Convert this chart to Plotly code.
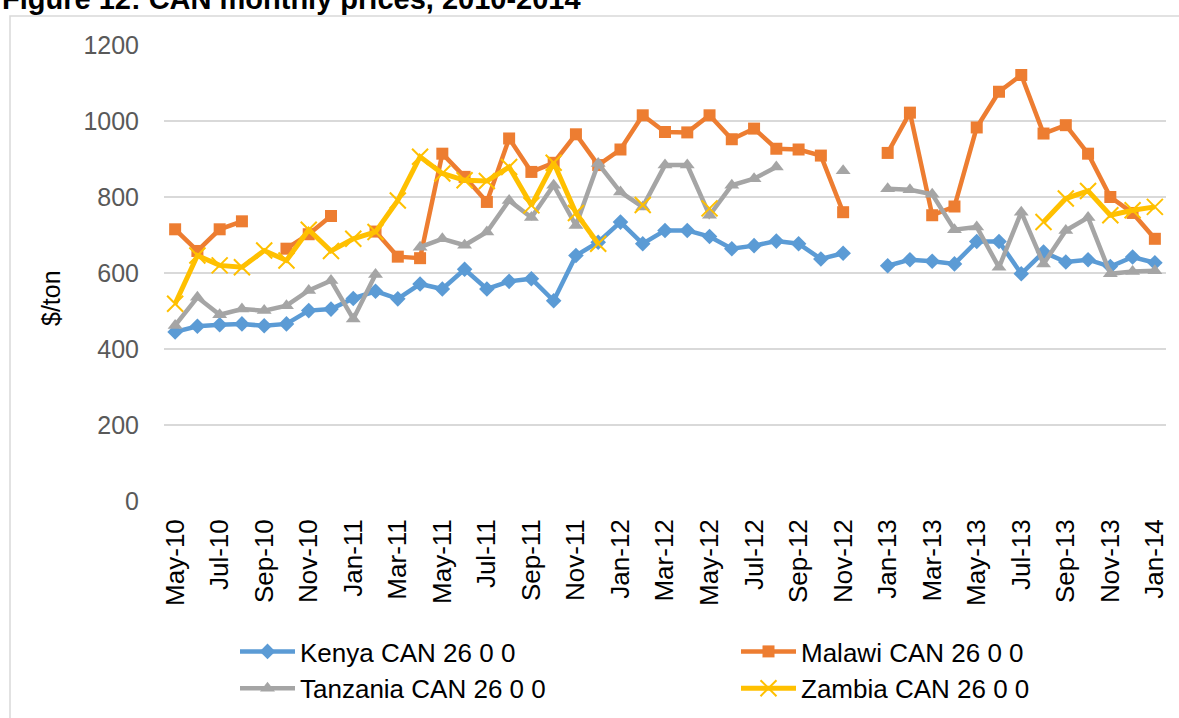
import plotly.graph_objects as go

months = ["May-10","Jun-10","Jul-10","Aug-10","Sep-10","Oct-10","Nov-10","Dec-10",
          "Jan-11","Feb-11","Mar-11","Apr-11","May-11","Jun-11","Jul-11","Aug-11",
          "Sep-11","Oct-11","Nov-11","Dec-11","Jan-12","Feb-12","Mar-12","Apr-12",
          "May-12","Jun-12","Jul-12","Aug-12","Sep-12","Oct-12","Nov-12","Dec-12",
          "Jan-13","Feb-13","Mar-13","Apr-13","May-13","Jun-13","Jul-13","Aug-13",
          "Sep-13","Oct-13","Nov-13","Dec-13","Jan-14"]

kenya = [445, 460, 464, 466, 461, 466, 501, 505, 533, 552, 532, 571, 558, 610, 558, 578,
         585, 527, 646, 681, 734, 677, 712, 712, 696, 664, 672, 684, 677, 637, 652, None,
         619, 635, 631, 624, 683, 683, 598, 655, 629, 635, 617, 642, 627]

malawi = [715, 658, 715, 736, None, 664, 702, 750, None, 709, 643, 639, 914, 853, 787, 954,
          866, 890, 965, 884, 925, 1015, 971, 970, 1015, 952, 980, 927, 925, 909, 760, None,
          916, 1022, 752, 775, 983, 1077, 1121, 967, 989, 914, 800, 758, 690]

tanzania = [462, 536, 490, 505, 501, 514, 554, 580, 479, 596, None, 668, 690, 673, 708, 791,
            746, 831, 725, 888, 813, 774, 884, 884, 752, 831, 848, 879, None, None, 869, None,
            822, 819, 807, 714, 721, 615, 760, 624, 712, 746, 598, 604, 606]

zambia = [519, 646, 620, 615, 659, 633, 714, 658, 690, 708, 791, 906, 862, 844, 842, 879,
          778, 890, 758, 677, None, 779, None, None, 770, None, None, None, None, None, None, None,
          None, None, None, None, None, None, None, 734, 796, 816, 752, 765, 774]

series_names = ["Kenya CAN 26 0 0", "Malawi CAN 26 0 0", "Tanzania CAN 26 0 0", "Zambia CAN 26 0 0"]
y_ticks = [0, 200, 400, 600, 800, 1000, 1200]

FONT = "Liberation Sans, Arial, sans-serif"
W, H = 1179, 718
L, R, T, B = 164, 13, 45, 217
PW, PH = W - L - R, H - T - B

def px_x(p):
    return (p - L) / PW

def px_y(p):
    return (H - B - p) / PH

x = list(range(len(months)))

fig = go.Figure()
fig.add_trace(go.Scatter(x=x, y=kenya, name=series_names[0], mode="lines+markers", legend="legend",
                         line=dict(color="#5B9BD5", width=4.5),
                         marker=dict(symbol="diamond", size=12, color="#5B9BD5")))
fig.add_trace(go.Scatter(x=x, y=malawi, name=series_names[1], mode="lines+markers", legend="legend2",
                         line=dict(color="#ED7D31", width=4.5),
                         marker=dict(symbol="square", size=12, color="#ED7D31")))
fig.add_trace(go.Scatter(x=x, y=tanzania, name=series_names[2], mode="lines+markers", legend="legend",
                         line=dict(color="#A5A5A5", width=4.5),
                         marker=dict(symbol="triangle-up", size=13, color="#A5A5A5")))
fig.add_trace(go.Scatter(x=x, y=zambia, name=series_names[3], mode="lines+markers", legend="legend2",
                         line=dict(color="#FFC000", width=5),
                         marker=dict(symbol="x-thin", size=16, color="#FFC000",
                                     line=dict(color="#FFC000", width=2))))

legend_common = dict(orientation="v", xanchor="left", yanchor="top", itemwidth=55,
                     font=dict(family=FONT, size=26, color="#000000"),
                     bgcolor="rgba(0,0,0,0)", tracegroupgap=0)

fig.update_layout(
    width=W, height=H,
    margin=dict(l=L, r=R, t=T, b=B, pad=0, autoexpand=False),
    paper_bgcolor="white", plot_bgcolor="white",
    font=dict(family=FONT, size=25, color="#000000"),
    showlegend=True,
    legend=dict(x=px_x(235), y=px_y(628), **legend_common),
    legend2=dict(x=px_x(736), y=px_y(628), **legend_common),
    xaxis=dict(range=[-0.5, len(months) - 0.5], tickmode="array",
               tickvals=x[::2], ticktext=months[::2], tickangle=-90,
               showgrid=False, zeroline=False, showline=False, ticks="",
               ticklabelstandoff=12, automargin=False,
               tickfont=dict(family=FONT, size=26, color="#000000")),
    yaxis=dict(range=[0, 1200], tickmode="array", tickvals=y_ticks,
               showgrid=True, gridcolor="#D9D9D9", gridwidth=1.5,
               zeroline=False, showline=False, ticks="",
               ticklabelstandoff=24, automargin=False,
               tickfont=dict(family=FONT, size=25, color="#595959")),
    shapes=[dict(type="rect", xref="paper", yref="paper",
                 x0=px_x(10), x1=px_x(1195), y0=px_y(735), y1=px_y(16),
                 line=dict(color="#D9D9D9", width=1.5), fillcolor="rgba(0,0,0,0)", layer="below")],
    annotations=[
        dict(text="<b>Figure 12: CAN monthly prices, 2010-2014</b>", xref="paper", yref="paper",
             x=px_x(0), y=px_y(-1), xanchor="left", yanchor="middle", showarrow=False,
             font=dict(family=FONT, size=29, color="#000000")),
        dict(text="$/ton", xref="paper", yref="paper", x=px_x(51), y=px_y(298),
             xanchor="center", yanchor="middle", textangle=-90, showarrow=False,
             font=dict(family=FONT, size=25, color="#000000")),
    ],
)

fig.write_html("out.html", config={"displayModeBar": False},
               post_script="document.body.style.margin='0';document.body.style.padding='0';")
